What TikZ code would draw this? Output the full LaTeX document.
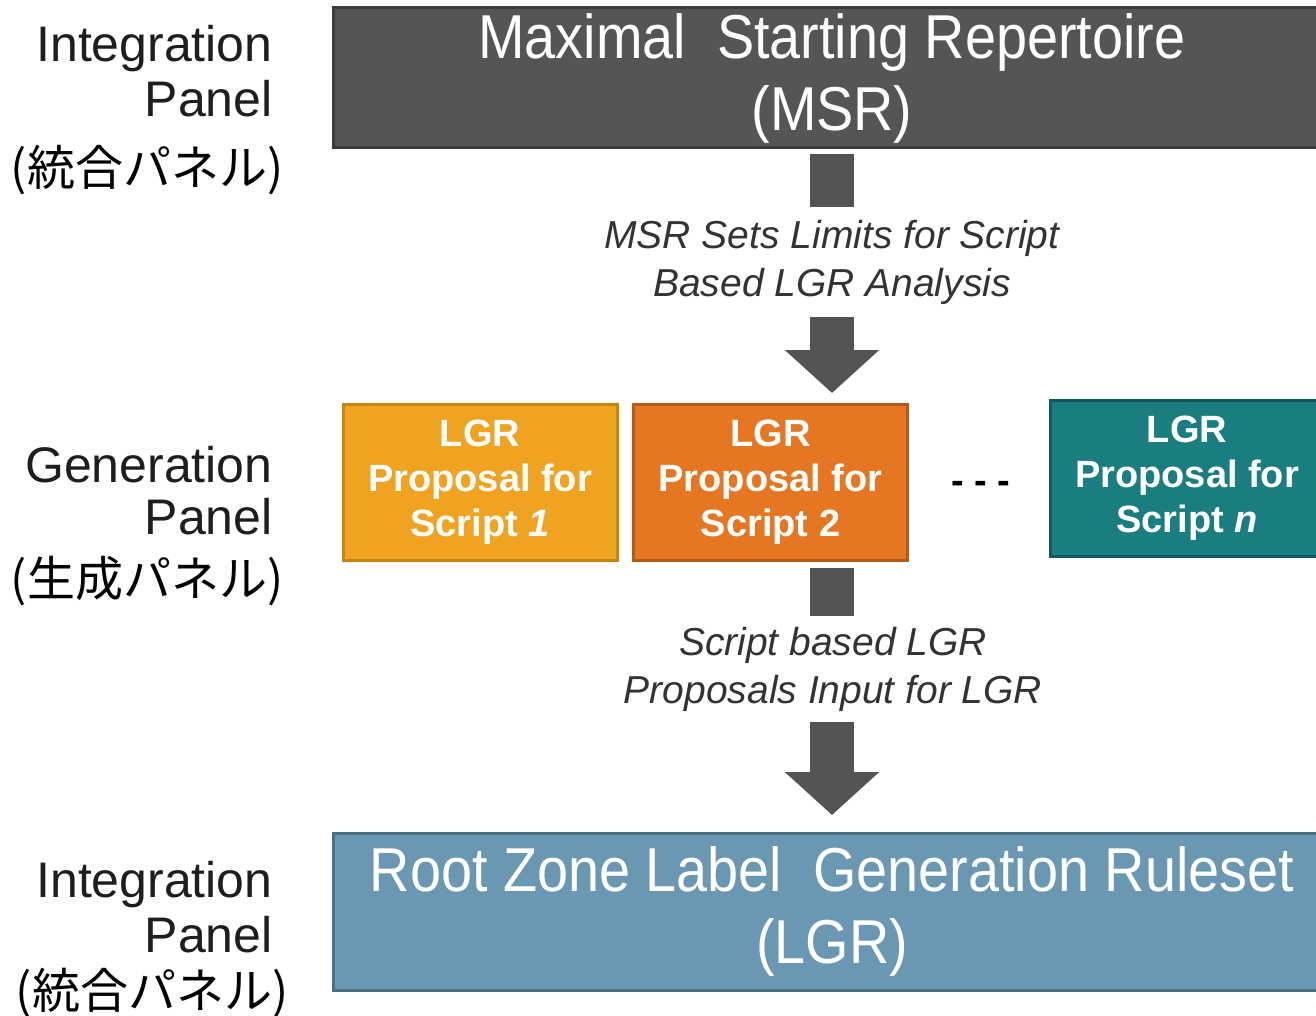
\documentclass[tikz,border=0pt]{standalone}
\usepackage{fontspec}
\setmainfont{Liberation Sans}
\newfontfamily\narrowsans[FakeStretch=0.9]{Liberation Sans}
\newfontfamily\cjk{Noto Sans CJK JP}
\usetikzlibrary{arrows.meta}
\definecolor{msrgray}{HTML}{555555}
\definecolor{msrborder}{HTML}{3C3C3C}
\definecolor{arrowgray}{HTML}{545454}
\definecolor{yel}{HTML}{F0A320}
\definecolor{yelb}{HTML}{C6870F}
\definecolor{ora}{HTML}{E67722}
\definecolor{orab}{HTML}{B55A1A}
\definecolor{boxteal}{HTML}{1A7D80}
\definecolor{tealb}{HTML}{10595C}
\definecolor{lgrblue}{HTML}{6A97B1}
\definecolor{lgrborder}{HTML}{4A6E84}
\definecolor{labelgray}{HTML}{333333}
\definecolor{panelink}{HTML}{1E1E1E}
\begin{document}
\begin{tikzpicture}[x=0.5pt,y=-0.5pt,
 bigbox/.style={draw, line width=1.5pt, minimum width=499pt, minimum height=70pt, text=white, align=center, font=\narrowsans\fontsize{31}{36}\selectfont, inner sep=0pt},
 propbox/.style={draw, line width=1.5pt, minimum width=137pt, minimum height=78pt, text=white, align=center, font=\bfseries\fontsize{19}{22.5}\selectfont, inner sep=0pt},
 flowlabel/.style={fill=white, align=center, text=labelgray, font=\itshape\fontsize{19.5}{24}\selectfont, inner sep=0pt},
 bigarrow/.style={draw=arrowgray, line width=22pt, -{Triangle[width=46pt,length=21.5pt]}},
 panelname/.style={anchor=base east, font=\fontsize{25}{30}\selectfont, text=panelink, inner sep=0pt},
 paneljp/.style={anchor=base, font=\cjk\fontsize{24}{30}\selectfont, text=black, inner sep=0pt},
 dashmark/.style={font=\bfseries\fontsize{19}{20}\selectfont, text=black, inner sep=0pt}
]
\useasboundingbox (0,0) rectangle (1316,1016);
\clip (0,0) rectangle (1316,1016);
\fill[white] (0,0) rectangle (1316,1016);

% main boxes
\node[bigbox, fill=msrgray, draw=msrborder] (msr) at (832,78) {Maximal\ \ Starting Repertoire\\(MSR)};
\node[propbox, fill=yel, draw=yelb] (p1) at (480,482) {LGR\\Proposal for\\Script \textit{1}};
\node[propbox, fill=ora, draw=orab] (p2) at (770.5,482) {LGR\\Proposal for\\Script 2};
\node[propbox, fill=boxteal, draw=tealb] (pn) at (1187,478) {LGR\\Proposal for\\Script \textit{n}};
\node[dashmark] (dots) at (981,487) {- - -};
\node[bigbox, fill=lgrblue, draw=lgrborder, minimum height=78.5pt] (lgr) at (832,911.5) {Root Zone Label\ \ Generation Ruleset\\(LGR)};

% arrows
\coordinate (t1) at (832,393);
\coordinate (t2) at (832,815);
\draw[bigarrow] ([yshift=-2.5pt]msr.south) -- (t1);
\draw[bigarrow] ([yshift=-3pt]t2 |- p2.south) -- (t2);

% arrow labels
\node[flowlabel, minimum height=55pt] (l1) at (832,262) {MSR Sets Limits for Script\\Based LGR Analysis};
\node[flowlabel, minimum height=53pt] (l2) at (833,669) {Script based LGR\\Proposals Input for LGR};

% panel labels
\node[panelname] (i1a) at (273,62) {Integration};
\node[panelname] (i1b) at (273,117) {Panel};
\node[paneljp] (i1c) at (147,186) {(統合パネル)};
\node[panelname] (g1a) at (273,482) {Generation};
\node[panelname] (g1b) at (273,534) {Panel};
\node[paneljp] (g1c) at (147,596) {(生成パネル)};
\node[panelname] (i2a) at (273,897) {Integration};
\node[panelname] (i2b) at (273,952) {Panel};
\node[paneljp] (i2c) at (152,1008) {(統合パネル)};
\end{tikzpicture}
\end{document}
